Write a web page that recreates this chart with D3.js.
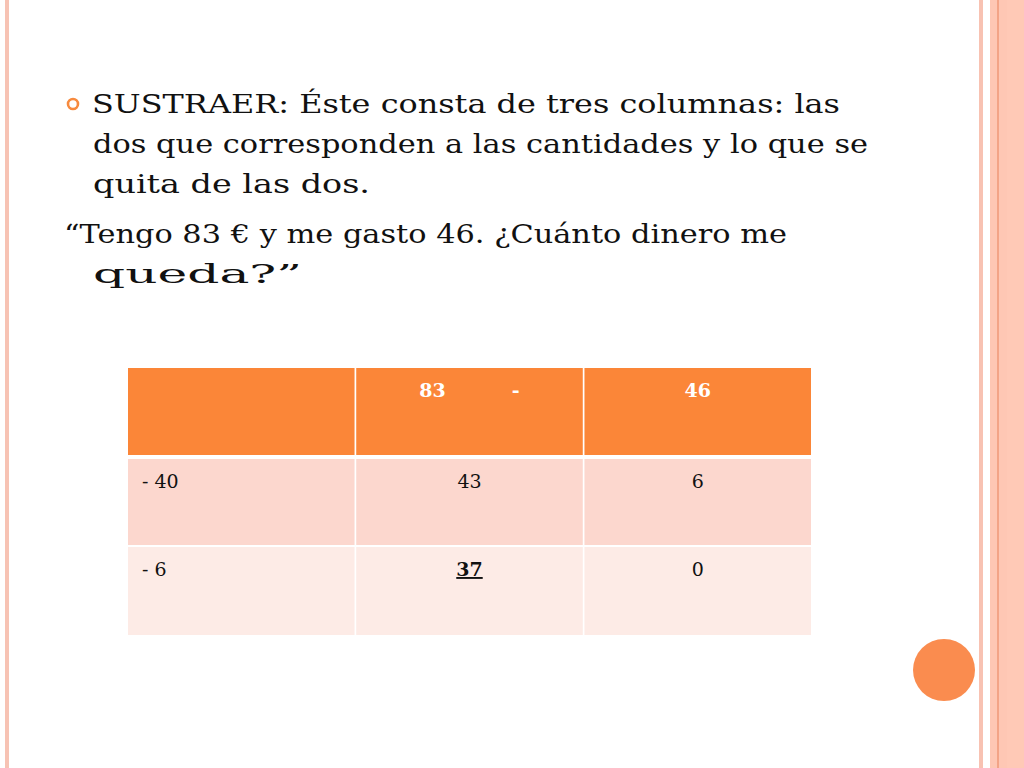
<!DOCTYPE html>
<html><head><meta charset="utf-8">
<script src="https://cdn.jsdelivr.net/npm/d3@7"></script>
<style>body{margin:0;background:#fff}svg{display:block}</style>
</head><body>
<script>
const textLines = [
  {t:"SUSTRAER: Éste consta de tres columnas: las", x:92, y:113, w:748},
  {t:"dos que corresponden a las cantidades y lo que se", x:93, y:153, w:775},
  {t:"quita de las dos.", x:93, y:193, w:277},
  {t:"“Tengo 83 € y me gasto 46. ¿Cuánto dinero me", x:64, y:243, w:723},
  {t:"queda?”", x:93, y:283, w:209}
];
const headerRow = ["", "83          -", "46"];
const rows = [["- 40","43","6"],["- 6","37","0"]];
const rowFills = ["#fcd7ce","#fdebe6"];

const svg = d3.select("body").append("svg").attr("width",1024).attr("height",768);
svg.append("rect").attr("width",1024).attr("height",768).attr("fill","#fff");
// left border
svg.append("rect").attr("x",5).attr("y",0).attr("width",4).attr("height",768).attr("fill","#f7c3b4");
// right stripes
svg.append("rect").attr("x",979).attr("y",0).attr("width",4).attr("height",768).attr("fill","#f8c2b2");
svg.append("rect").attr("x",990).attr("y",0).attr("width",34).attr("height",768).attr("fill","#fec7b4");
svg.append("rect").attr("x",1007).attr("y",0).attr("width",17).attr("height",768).attr("fill","#ffc9b6");
svg.append("rect").attr("x",997).attr("y",0).attr("width",2).attr("height",768).attr("fill","#f3a487");
svg.append("circle").attr("cx",944).attr("cy",670).attr("r",31).attr("fill","#fa8c4f");
// bullet
svg.append("circle").attr("cx",73).attr("cy",104).attr("r",5).attr("fill","none").attr("stroke","#f78a3e").attr("stroke-width",2.6);

svg.selectAll("text.body").data(textLines).join("text").attr("class","body")
  .attr("x",d=>d.x).attr("y",d=>d.y).attr("textLength",d=>d.w).attr("lengthAdjust","spacingAndGlyphs")
  .attr("font-family","DejaVu Serif").attr("font-size",26).attr("fill","#111").text(d=>d.t);

// table
const x = d3.scaleBand().domain([0,1,2]).range([128,812]).paddingInner(0.003);
const y = d3.scaleOrdinal().domain([0,1,2]).range([368,459,547]);
const hts = [87,86,88];
const all = [headerRow, ...rows];
all.forEach((r,ri)=>{
  r.forEach((c,ci)=>{
    const x0 = x(ci), bw = x.bandwidth()-1;
    svg.append("rect").attr("x",x0).attr("y",y(ri)).attr("width",bw).attr("height",hts[ri])
      .attr("fill", ri===0 ? "#fb8638" : rowFills[ri-1]);
    const left = ci===0;
    const t = svg.append("text").attr("x", left? x0+14 : x0+bw/2).attr("y",y(ri)+29)
      .attr("text-anchor", left?"start":"middle")
      .attr("font-family","DejaVu Serif").attr("font-size",19)
      .attr("fill", ri===0?"#fff":"#111").attr("font-weight", (ri===0 || c==="37")?"bold":"normal")
      .attr("xml:space","preserve").style("white-space","pre")
      .attr("text-decoration", c==="37"?"underline":null).text(c);
  });
});
</script>
</body></html>
